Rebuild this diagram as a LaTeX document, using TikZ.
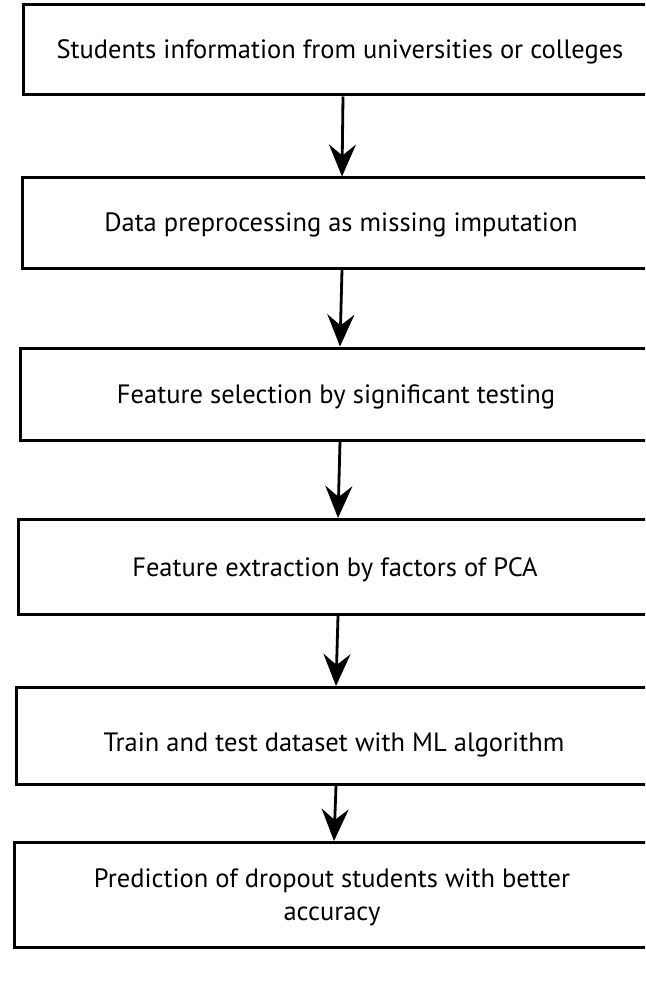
\documentclass[tikz,border=0pt]{standalone}
\usepackage{fontspec}
\setmainfont{PT Sans}
\usetikzlibrary{arrows.meta}
\begin{document}
\begin{tikzpicture}[x=1pt,y=-1pt,
  stepbox/.style={draw=black, line width=3pt, rectangle, minimum width=640pt,
    inner sep=0pt, align=center, font=\fontsize{26.5}{33}\selectfont, text=black},
  flow/.style={draw=black, line width=2.8pt,
    -{Stealth[length=32pt,width=27pt,inset=11pt]}}]
\useasboundingbox (0,0) rectangle (645,984);
\fill[white] (0,0) rectangle (645,984);
\clip (0,0) rectangle (645,984);
\node[stepbox, minimum height=90pt] (b1) at (343,50) {};
\node[stepbox, minimum height=90pt] (b2) at (342,223) {};
\node[stepbox, minimum height=92pt] (b3) at (340,394) {};
\node[stepbox, minimum height=95pt] (b4) at (338,567) {};
\node[stepbox, minimum height=97pt] (b5) at (336,736) {};
\node[stepbox, minimum height=105pt] (b6) at (334,895) {};
\node[stepbox, draw=none, minimum width=0pt] (t1) at (340,52) {Students information from universities or colleges};
\node[stepbox, draw=none, minimum width=0pt] (t2) at (341,225) {Data preprocessing as missing imputation};
\node[stepbox, draw=none, minimum width=0pt] (t3) at (336,397) {Feature selection by significant testing};
\node[stepbox, draw=none, minimum width=0pt] (t4) at (335,570) {Feature extraction by factors of PCA};
\node[stepbox, draw=none, minimum width=0pt] (t5) at (334,745) {Train and test dataset with ML algorithm};
\node[stepbox, draw=none, minimum width=0pt] (t6) at (332,897) {Prediction of dropout students with better\\accuracy};
\draw[flow] (b1.south) -- (b2.north);
\draw[flow] (b2.south) -- (b3.north);
\draw[flow] (b3.south) -- (b4.north);
\draw[flow] (b4.south) -- (b5.north);
\draw[flow] (b5.south) -- (b6.north);
\end{tikzpicture}
\end{document}
